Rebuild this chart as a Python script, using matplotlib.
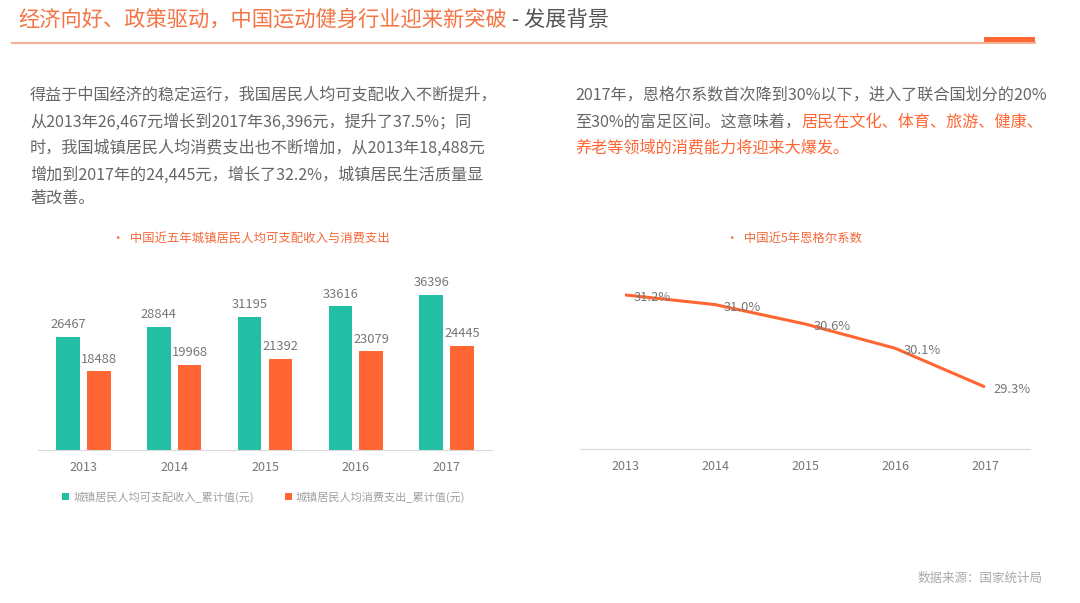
import matplotlib
matplotlib.use("Agg")
import matplotlib.pyplot as plt
import numpy as np

plt.rcParams["font.family"] = ["Noto Sans CJK SC", "DejaVu Sans"]

W, H = 1080, 603
ORANGE = "#FF6633"
TEAL = "#22BFA5"
GRAY = "#666666"

years = ["2013", "2014", "2015", "2016", "2017"]
income = [26467, 28844, 31195, 33616, 36396]
spending = [18488, 19968, 21392, 23079, 24445]
engel = [31.2, 31.0, 30.6, 30.1, 29.3]

income_label = "城镇居民人均可支配收入_累计值(元)"
spending_label = "城镇居民人均消费支出_累计值(元)"
bar_title = "中国近五年城镇居民人均可支配收入与消费支出"
line_title = "中国近5年恩格尔系数"

left_lines = [
    "得益于中国经济的稳定运行，我国居民人均可支配收入不断提升，",
    "从2013年26,467元增长到2017年36,396元，提升了37.5%；同",
    "时，我国城镇居民人均消费支出也不断增加，从2013年18,488元",
    "增加到2017年的24,445元，增长了32.2%，城镇居民生活质量显",
    "著改善。",
]


def fx(px):
    return px / W


def fy(py):
    return 1 - py / H


def text_after(fig, prev, s, **kw):
    """Place a text right after another one on the same line."""
    fig.canvas.draw()
    bb = prev.get_window_extent()
    x, y = prev.get_position()
    return fig.text(bb.x1 / W, y, s, va="center", ha="left", **kw)


fig = plt.figure(figsize=(W / 100, H / 100), dpi=100)

# header
t = fig.text(fx(18), fy(20), "经济向好、政策驱动，中国运动健身行业迎来新突破",
             color="#F47445", fontsize=15.3, va="center", ha="left")
text_after(fig, t, " - 发展背景", color="#555555", fontsize=15.3)
fig.add_artist(plt.Line2D([fx(12), fx(1035)], [fy(43), fy(43)], color="#F5B396", lw=1.5))
fig.add_artist(plt.Rectangle((fx(984), fy(44)), fx(51), 7 / H, color=ORANGE, lw=0))

# left paragraph
for y, line in zip([95, 122, 148, 175, 198], left_lines):
    fig.text(fx(30), fy(y), line, color=GRAY, fontsize=11.6, va="center", ha="left")

# right paragraph (with highlighted part)
fig.text(fx(575), fy(95), "2017年，恩格尔系数首次降到30%以下，进入了联合国划分的20%",
         color=GRAY, fontsize=11.6, va="center", ha="left")
g = fig.text(fx(575), fy(122), "至30%的富足区间。这意味着，", color=GRAY,
             fontsize=11.6, va="center", ha="left")
text_after(fig, g, "居民在文化、体育、旅游、健康、", color=ORANGE, fontsize=11.6)
fig.text(fx(575), fy(148), "养老等领域的消费能力将迎来大爆发。", color=ORANGE,
         fontsize=11.6, va="center", ha="left")

# chart titles
fig.text(fx(112), fy(238), "•  " + bar_title, color="#F4683A", fontsize=8.9,
         va="center", ha="left")
fig.text(fx(726), fy(238), "•  " + line_title, color="#F4683A", fontsize=8.9,
         va="center", ha="left")

# bar chart
ax = fig.add_axes([fx(38), fy(450), fx(492 - 38), (450 - 260) / H])
x = np.arange(len(years))
b1 = ax.bar(x - 0.17, income, width=0.26, color=TEAL, label=income_label)
b2 = ax.bar(x + 0.17, spending, width=0.26, color=ORANGE, label=spending_label)
for bars in (b1, b2):
    for r in bars:
        ax.annotate(f"{int(r.get_height())}", (r.get_x() + r.get_width() / 2, r.get_height()),
                    xytext=(0, 4), textcoords="offset points", ha="center", va="bottom",
                    fontsize=9.3, color="#777777")
ax.set_xlim(-0.5, 4.5)
ax.set_ylim(0, 44500)
ax.set_xticks(x, years)
ax.set_yticks([])
for s in ("left", "right", "top"):
    ax.spines[s].set_visible(False)
ax.spines["bottom"].set_color("#D9D9D9")
ax.tick_params(axis="x", length=0, pad=8, labelsize=9, labelcolor="#777777")
ax.patch.set_alpha(0)
ax.legend(loc="center left", bbox_to_anchor=(fx(62), fy(497)), bbox_transform=fig.transFigure,
          ncol=2, frameon=False, fontsize=8, labelcolor="#A0A0A0", handlelength=0.6,
          handleheight=0.6, handletextpad=0.4, columnspacing=2.8, borderaxespad=0, borderpad=0)

# line chart
ax2 = fig.add_axes([fx(580), fy(449), fx(450), (449 - 260) / H])
ax2.plot(x, engel, color=ORANGE, lw=2.2, solid_capstyle="butt")
for xi, v in zip(x, engel):
    ax2.annotate(f"{v:.1f}%", (xi, v), xytext=(6, -2), textcoords="offset points",
                 ha="left", va="center", fontsize=9.3, color="#777777")
ax2.set_xlim(-0.5, 4.5)
ax2.set_ylim(28.02, 31.92)
ax2.set_xticks(x, years)
ax2.set_yticks([])
for s in ("left", "right", "top"):
    ax2.spines[s].set_visible(False)
ax2.spines["bottom"].set_color("#D9D9D9")
ax2.tick_params(axis="x", length=0, pad=8, labelsize=9, labelcolor="#777777")
ax2.patch.set_alpha(0)

fig.text(fx(1043), fy(578), "数据来源：国家统计局", color="#AAAAAA", fontsize=9,
         va="center", ha="right")

fig.savefig("out.png", dpi=100)
